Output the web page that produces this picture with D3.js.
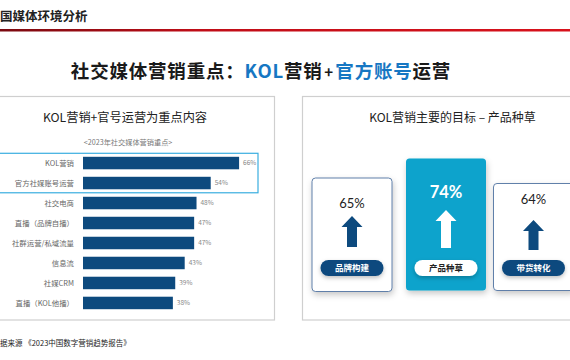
<!DOCTYPE html>
<html><head><meta charset="utf-8">
<script src="https://cdn.jsdelivr.net/npm/d3@7"></script>
<style>body{margin:0;background:#fff;}svg{display:block;font-family:"Noto Sans CJK SC","Noto Sans",sans-serif;}</style>
</head><body><svg id="c" width="570" height="360"></svg>
<script>
const categories = ["KOL营销","官方社媒账号运营","社交电商","直播（品牌自播）","社群运营/私域流量","信息流","社媒CRM","直播（KOL他播）"];
const values = [66,54,48,47,47,43,39,38];
const goalLabels = ["品牌构建","产品种草","带货转化"];
const goalValues = [65,74,64];

const svg = d3.select("#c");
const defs = svg.append("defs");
const g1 = defs.append("linearGradient").attr("id","rl");
g1.append("stop").attr("offset","0").attr("stop-color","#7a0a10");
g1.append("stop").attr("offset","0.35").attr("stop-color","#c00d17");
g1.append("stop").attr("offset","1").attr("stop-color","#d8121c");
const sh = defs.append("filter").attr("id","sh").attr("x","-30%").attr("y","-30%").attr("width","160%").attr("height","160%");
sh.append("feDropShadow").attr("dx",1).attr("dy",3).attr("stdDeviation",3).attr("flood-color","#000").attr("flood-opacity",0.22);
const sh2 = defs.append("filter").attr("id","sh2").attr("x","-30%").attr("y","-50%").attr("width","160%").attr("height","200%");
sh2.append("feDropShadow").attr("dx",0).attr("dy",2).attr("stdDeviation",2).attr("flood-color","#000").attr("flood-opacity",0.25);

// header
svg.append("text").attr("x",0).attr("y",21).attr("font-size",12.5).attr("font-weight","bold").attr("fill","#222").text("国媒体环境分析");
svg.append("rect").attr("x",0).attr("y",29).attr("width",570).attr("height",2.5).attr("fill","url(#rl)");

// main title
const t = svg.append("text").attr("x",261).attr("y",78).attr("text-anchor","middle").attr("font-size",18.5).attr("font-weight","bold").attr("fill","#1a1a1a").attr("letter-spacing",0.8);
t.append("tspan").text("社交媒体营销重点：");
t.append("tspan").attr("fill","#1677c3").text("KOL");
t.append("tspan").text("营销");
t.append("tspan").attr("font-size",15).attr("dx",1.5).text("+");
t.append("tspan").attr("fill","#1677c3").attr("dx",1.5).text("官方账号");
t.append("tspan").text("运营");

// panels
svg.append("rect").attr("x",-5).attr("y",96.5).attr("width",279.5).attr("height",223.5).attr("fill","#fff").attr("stroke","#cfcfcf").attr("stroke-width",1.2);
svg.append("rect").attr("x",302.5).attr("y",96.5).attr("width",280).attr("height",223.5).attr("fill","#fff").attr("stroke","#cfcfcf").attr("stroke-width",1.2);

// left panel titles
svg.append("text").attr("x",125).attr("y",122).attr("text-anchor","middle").attr("font-size",12.2).attr("fill","#222").text("KOL营销+官号运营为重点内容");
svg.append("text").attr("x",128).attr("y",144.5).attr("text-anchor","middle").attr("font-size",7.2).attr("fill","#777").text("<2023年社交媒体营销重点>");

// bar chart
const x = d3.scaleLinear().domain([0,100]).range([83,319.5]);
const y = d3.scaleBand().domain(categories).range([153,313]).paddingInner(0.375).paddingOuter(0.19);
svg.append("g").selectAll("rect").data(categories).join("rect")
  .attr("x",x(0)).attr("y",d=>y(d)).attr("height",y.bandwidth())
  .attr("width",(d,i)=>x(values[i])-x(0)).attr("fill","#0d4a7e");
svg.append("g").selectAll("text").data(categories).join("text")
  .attr("x",74).attr("y",d=>y(d)+y.bandwidth()/2+2.6).attr("text-anchor","end")
  .attr("font-size",7.4).attr("fill","#666").text(d=>d);
svg.append("g").selectAll("text").data(categories).join("text")
  .attr("x",(d,i)=>x(values[i])+4).attr("y",d=>y(d)+y.bandwidth()/2+2.3)
  .attr("font-size",6.5).attr("fill","#888").text((d,i)=>values[i]+"%");
// highlight box
svg.append("rect").attr("x",-2).attr("y",y(categories[0])-3.5).attr("width",260).attr("height",y(categories[1])+y.bandwidth()+3.5-(y(categories[0])-3.5))
  .attr("fill","none").attr("stroke","#3aaee0").attr("stroke-width",1.2);

// right panel
svg.append("text").attr("x",452.5).attr("y",121.5).attr("text-anchor","middle").attr("font-size",12).attr("fill","#222").text("KOL营销主要的目标 – 产品种草");

const cards = [
  {cx:352, top:178, bottom:291.5, hi:false, pctY:208, arrTop:216, arrBot:247},
  {cx:446, top:158.5, bottom:290.5, hi:true, pctY:198, arrTop:210, arrBot:248},
  {cx:533.5, top:183.5, bottom:290.5, hi:false, pctY:204, arrTop:220, arrBot:250}
];
const cw = 80;
const cg = svg.append("g").selectAll("g").data(goalLabels).join("g");
cg.append("rect").attr("x",(d,i)=>cards[i].cx-cw/2).attr("y",(d,i)=>cards[i].top)
  .attr("width",cw).attr("height",(d,i)=>cards[i].bottom-cards[i].top).attr("rx",3.5)
  .attr("fill",(d,i)=>cards[i].hi?"#0aa3cc":"#fff")
  .attr("stroke",(d,i)=>cards[i].hi?"none":"#4f73a0").attr("stroke-width",0.9)
  .attr("filter","url(#sh)");
cg.append("text").attr("x",(d,i)=>cards[i].cx).attr("y",(d,i)=>cards[i].pctY).attr("text-anchor","middle")
  .attr("font-size",(d,i)=>cards[i].hi?16.5:13).attr("font-weight",(d,i)=>cards[i].hi?"bold":"normal")
  .attr("fill",(d,i)=>cards[i].hi?"#fff":"#222").attr("font-family","Lato, 'Noto Sans', sans-serif")
  .text((d,i)=>goalValues[i]+"%");
cg.append("path").attr("d",(d,i)=>{
  const c=cards[i], hw=10.5, sw=5, hh=11;
  return `M${c.cx},${c.arrTop} L${c.cx+hw},${c.arrTop+hh} L${c.cx+sw},${c.arrTop+hh} L${c.cx+sw},${c.arrBot} L${c.cx-sw},${c.arrBot} L${c.cx-sw},${c.arrTop+hh} L${c.cx-hw},${c.arrTop+hh} Z`;
}).attr("fill",(d,i)=>cards[i].hi?"#fff":"#0d4a7e");
cg.append("rect").attr("x",(d,i)=>cards[i].cx-31.5).attr("y",260).attr("width",63).attr("height",16).attr("rx",8)
  .attr("fill",(d,i)=>cards[i].hi?"#fff":"#0d4a7e").attr("filter","url(#sh2)");
cg.append("text").attr("x",(d,i)=>cards[i].cx).attr("y",271.3).attr("text-anchor","middle")
  .attr("font-size",8.5).attr("font-weight","bold").attr("fill",(d,i)=>cards[i].hi?"#222":"#fff").text(d=>d);

// footer
svg.append("text").attr("x",0).attr("y",346).attr("font-size",7.5).attr("fill","#222").text("据来源 《2023中国数字营销趋势报告》");
</script></body></html>
